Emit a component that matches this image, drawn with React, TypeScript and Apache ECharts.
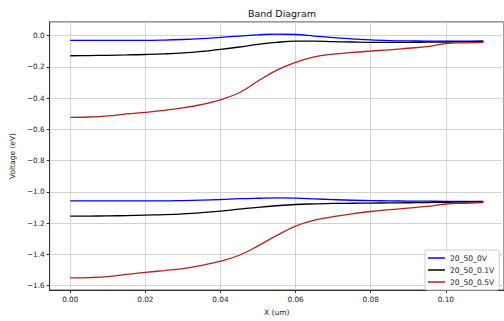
import React, { useEffect, useRef } from "react";
import * as echarts from "echarts";

const xValues = [0, 0.005, 0.01, 0.015, 0.02, 0.025, 0.03, 0.035, 0.04, 0.045, 0.05, 0.055, 0.06, 0.065, 0.07, 0.075, 0.08, 0.085, 0.09, 0.095, 0.1, 0.105, 0.11];

const blueTop = [-0.03, -0.03, -0.03, -0.03, -0.03, -0.028, -0.024, -0.018, -0.01, -0.002, 0.006, 0.011, 0.008, -0.002, -0.012, -0.02, -0.027, -0.031, -0.033, -0.034, -0.035, -0.035, -0.035];
const blackTop = [-0.128, -0.127, -0.125, -0.123, -0.12, -0.116, -0.11, -0.1, -0.087, -0.072, -0.055, -0.042, -0.035, -0.035, -0.038, -0.04, -0.042, -0.042, -0.042, -0.041, -0.04, -0.038, -0.035];
const redTop = [-0.522, -0.52, -0.513, -0.5, -0.49, -0.478, -0.462, -0.44, -0.41, -0.365, -0.29, -0.22, -0.17, -0.135, -0.118, -0.107, -0.098, -0.09, -0.08, -0.07, -0.05, -0.045, -0.042];

const blueBottom = [-1.057, -1.057, -1.057, -1.057, -1.057, -1.057, -1.055, -1.052, -1.048, -1.043, -1.04, -1.038, -1.039, -1.044, -1.049, -1.053, -1.055, -1.057, -1.058, -1.059, -1.06, -1.06, -1.06];
const blackBottom = [-1.155, -1.154, -1.153, -1.151, -1.148, -1.145, -1.14, -1.132, -1.122, -1.11, -1.098, -1.088, -1.08, -1.076, -1.073, -1.072, -1.071, -1.07, -1.069, -1.068, -1.066, -1.065, -1.063];
const redBottom = [-1.55, -1.548, -1.542, -1.527, -1.515, -1.503, -1.49, -1.47, -1.443, -1.405, -1.345, -1.278, -1.218, -1.18, -1.158, -1.14, -1.125, -1.113, -1.103, -1.092, -1.077, -1.072, -1.068];

const seriesNames = ["20_50_0V", "20_50_0.1V", "20_50_0.5V"];
const seriesColors = ["#0000ff", "#000000", "#b22222"];

const pair = (ys: number[]) => xValues.map((x, i) => [x, ys[i]]);

export default function App() {
  const ref = useRef<HTMLDivElement>(null);
  useEffect(() => {
    if (!ref.current) return;
    const chart = echarts.init(ref.current, null, { renderer: "svg" });
    const font = "DejaVu Sans";
    const tickText = { fontFamily: font, fontSize: 7.3, color: "#222" };
    const groups = [
      [blueTop, blueBottom],
      [blackTop, blackBottom],
      [redTop, redBottom],
    ];
    const series: any[] = [];
    groups.forEach((g, k) => {
      g.forEach((ys) => {
        series.push({
          type: "line",
          name: seriesNames[k],
          data: pair(ys),
          smooth: 0.4,
          symbol: "none",
          lineStyle: { color: seriesColors[k], width: 1.3 },
          itemStyle: { color: seriesColors[k] },
        });
      });
    });
    chart.setOption({
      animation: false,
      backgroundColor: "#ffffff",
      title: {
        text: "Band Diagram",
        left: 277,
        textAlign: "center",
        top: 3,
        textStyle: { fontFamily: font, fontSize: 9.5, fontWeight: "normal", color: "#111" },
      },
      grid: {
        left: 48,
        top: 22,
        width: 459,
        height: 273,
        show: true,
        borderColor: "#333",
        borderWidth: 1,
        backgroundColor: "transparent",
      },
      legend: {
        data: seriesNames.map((n) => ({ name: n, icon: "rect" })),
        orient: "vertical",
        left: 425,
        top: 250,
        itemWidth: 17,
        itemHeight: 1.5,
        itemGap: 4,
        padding: [4, 5, 4, 3],
        backgroundColor: "rgba(255,255,255,0.85)",
        borderColor: "#cccccc",
        borderWidth: 1,
        borderRadius: 2,
        textStyle: { fontFamily: font, fontSize: 7.6, color: "#222" },
      },
      xAxis: {
        type: "value",
        min: -0.0055,
        max: 0.1155,
        splitNumber: 6,
        name: "X (um)",
        nameLocation: "middle",
        nameGap: 17,
        nameTextStyle: { fontFamily: font, fontSize: 7.5, color: "#222" },
        axisLine: { show: true, onZero: false, lineStyle: { color: "#333", width: 1 } },
        axisTick: { show: true, inside: false, length: 3, lineStyle: { color: "#333" } },
        axisLabel: {
          ...tickText,
          margin: 6,
          showMinLabel: false,
          showMaxLabel: false,
          formatter: (v: number) => v.toFixed(2),
        },
        splitLine: { show: true, lineStyle: { color: "#c8c8c8", width: 0.8 } },
      },
      yAxis: {
        type: "value",
        min: -1.628,
        max: 0.088,
        splitNumber: 8,
        name: "Voltage (eV)",
        nameLocation: "middle",
        nameGap: 30,
        nameTextStyle: { fontFamily: font, fontSize: 7.5, color: "#222" },
        axisLine: { show: true, onZero: false, lineStyle: { color: "#333", width: 1 } },
        axisTick: { show: true, inside: false, length: 3, lineStyle: { color: "#333" } },
        axisLabel: {
          ...tickText,
          margin: 5,
          showMinLabel: false,
          showMaxLabel: false,
          formatter: (v: number) => (v < -1e-9 ? "\u2212" : "") + Math.abs(v).toFixed(1),
        },
        splitLine: { show: true, lineStyle: { color: "#c8c8c8", width: 0.8 } },
      },
      series,
    });
    return () => chart.dispose();
  }, []);
  return (
    <div
      ref={ref}
      style={{ position: "fixed", left: 0, top: 0, width: 504, height: 321 }}
    />
  );
}
